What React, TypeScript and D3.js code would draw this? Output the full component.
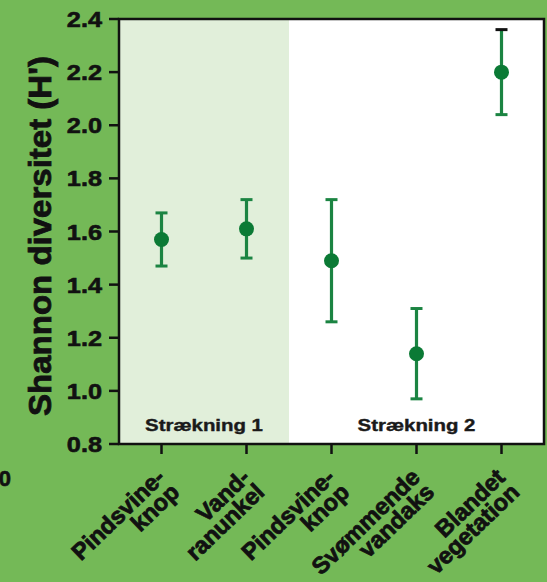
import { useEffect, useRef } from "react";
import * as d3 from "d3";

// categories as two-line labels
const categories = ["pk1", "vr1", "pk2", "sv2", "bv2"];
const labelLines = [
  ["Pindsvine-", "knop"],
  ["Vand-", "ranunkel"],
  ["Pindsvine-", "knop"],
  ["Svømmende", "vandaks"],
  ["Blandet", "vegetation"],
];
const means = [1.57, 1.61, 1.49, 1.14, 2.2];
const lows = [1.47, 1.5, 1.26, 0.97, 2.04];
const highs = [1.67, 1.72, 1.72, 1.31, 2.36];
const yTicks = [0.8, 1.0, 1.2, 1.4, 1.6, 1.8, 2.0, 2.2, 2.4];
const sections = [
  { label: "Strækning 1", from: 0, to: 1 },
  { label: "Strækning 2", from: 2, to: 4 },
];

export default function App() {
  const svgRef = useRef<SVGSVGElement>(null);

  useEffect(() => {
    const el = svgRef.current;
    if (!el) return;
    const W = 547;
    const H = 582;
    const m = { top: 19, right: 3, bottom: 138, left: 119 };
    const iw = W - m.left - m.right;
    const ih = H - m.top - m.bottom;
    const font = "Liberation Sans, Arial, sans-serif";

    const svg = d3.select(el);
    svg.selectAll("*").remove();

    svg.append("rect").attr("width", W).attr("height", H).attr("fill", "#74b957");

    const g = svg.append("g").attr("transform", `translate(${m.left},${m.top})`);

    const x = d3.scalePoint<string>().domain(categories).range([0, iw]).padding(0.5);
    const y = d3.scaleLinear().domain([0.8, 2.4]).range([ih, 0]);
    const step = x.step();

    // section backgrounds
    g.append("rect").attr("width", iw).attr("height", ih).attr("fill", "#ffffff");
    const s1 = sections[0];
    g.append("rect")
      .attr("x", 0)
      .attr("y", 0)
      .attr("width", x(categories[s1.to])! + step / 2)
      .attr("height", ih)
      .attr("fill", "#e1efda");

    // section labels
    sections.forEach((s) => {
      const x0 = s.from === 0 ? 0 : x(categories[s.from])! - step / 2;
      const x1 = s.to === categories.length - 1 ? iw : x(categories[s.to])! + step / 2;
      g.append("text")
        .attr("transform", `translate(${(x0 + x1) / 2},${ih - 13}) scale(1.2,1)`)
        .attr("text-anchor", "middle")
        .attr("font-family", font)
        .attr("font-weight", "bold")
        .attr("font-size", 17)
        .attr("fill", "#1a1a1a")
        .attr("stroke", "#1a1a1a")
        .attr("stroke-width", 0.4)
        .text(s.label);
    });

    // error bars
    const barColor = "#1b8442";
    categories.forEach((c, i) => {
      const cx = x(c)!;
      g.append("line")
        .attr("x1", cx)
        .attr("x2", cx)
        .attr("y1", y(lows[i]))
        .attr("y2", y(highs[i]))
        .attr("stroke", barColor)
        .attr("stroke-width", 3.2);
      [lows[i], highs[i]].forEach((v, j) => {
        g.append("line")
          .attr("x1", cx - 6)
          .attr("x2", cx + 6)
          .attr("y1", y(v))
          .attr("y2", y(v))
          .attr("stroke", i === 4 && j === 1 ? "#111" : barColor)
          .attr("stroke-width", 3);
      });
      g.append("circle")
        .attr("cx", cx)
        .attr("cy", y(means[i]))
        .attr("r", 7.5)
        .attr("fill", "#0b7a35");
    });

    // frame
    g.append("rect")
      .attr("width", iw)
      .attr("height", ih)
      .attr("fill", "none")
      .attr("stroke", "#111")
      .attr("stroke-width", 2.5);

    // y axis ticks + labels
    yTicks.forEach((t) => {
      g.append("line")
        .attr("x1", -10)
        .attr("x2", 0)
        .attr("y1", y(t))
        .attr("y2", y(t))
        .attr("stroke", "#111")
        .attr("stroke-width", 2.5);
      g.append("text")
        .attr("transform", `translate(-17,${y(t) + 8}) scale(1.15,1)`)
        .attr("text-anchor", "end")
        .attr("font-family", font)
        .attr("font-weight", "bold")
        .attr("font-size", 22)
        .attr("fill", "#111")
        .attr("stroke", "#111")
        .attr("stroke-width", 0.6)
        .text(d3.format(".1f")(t));
    });

    // stray label at far left
    svg.append("text")
      .attr("x", 11)
      .attr("y", 486)
      .attr("text-anchor", "end")
      .attr("font-family", font)
      .attr("font-weight", "bold")
      .attr("font-size", 22)
      .attr("fill", "#111")
      .attr("stroke", "#111")
      .attr("stroke-width", 0.6)
      .text("0");

    // x ticks + rotated labels
    categories.forEach((c, i) => {
      const cx = x(c)!;
      g.append("line")
        .attr("x1", cx)
        .attr("x2", cx)
        .attr("y1", ih)
        .attr("y2", ih + 10)
        .attr("stroke", "#111")
        .attr("stroke-width", 2.5);
      const t = g.append("text")
        .attr("transform", `translate(${cx + 5},${ih + 35}) rotate(-44)`)
        .attr("text-anchor", "end")
        .attr("font-family", font)
        .attr("font-weight", "bold")
        .attr("font-size", 23.5)
        .attr("fill", "#111")
        .attr("stroke", "#111")
        .attr("stroke-width", 0.8);
      labelLines[i].forEach((line, j) => {
        t.append("tspan").attr("x", 0).attr("dy", j === 0 ? 0 : 20.5).text(line);
      });
    });

    // y axis title
    svg.append("text")
      .attr("transform", `translate(51,236) rotate(-90)`)
      .attr("text-anchor", "middle")
      .attr("font-family", font)
      .attr("font-weight", "bold")
      .attr("font-size", 31)
      .attr("textLength", 360)
      .attr("lengthAdjust", "spacingAndGlyphs")
      .attr("fill", "#111")
      .attr("stroke", "#111")
      .attr("stroke-width", 0.8)
      .text("Shannon diversitet (H')");
  }, []);

  return (
    <svg
      ref={svgRef}
      width={547}
      height={582}
      style={{ position: "absolute", left: 0, top: 0 }}
    />
  );
}
